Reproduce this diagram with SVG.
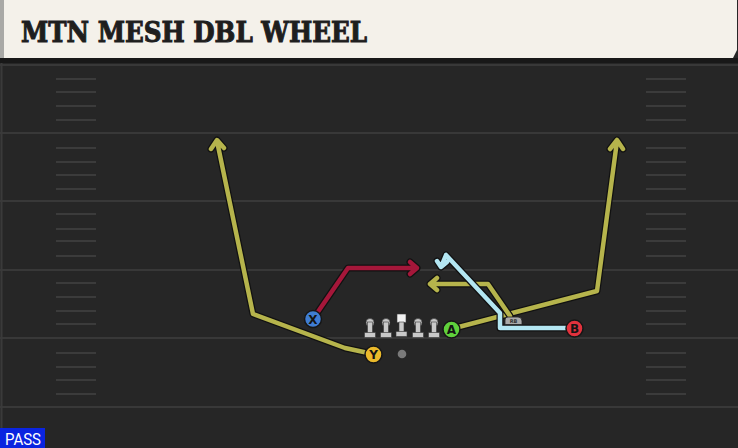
<svg xmlns="http://www.w3.org/2000/svg" width="738" height="448" viewBox="0 0 738 448">
<style>
.yard{stroke:#383838;stroke-width:2}
.hash{stroke:#3b3b3b;stroke-width:2}
.ol{fill:none;stroke:#111;stroke-width:7;stroke-linejoin:round;stroke-linecap:round}
.rt{fill:none;stroke-width:4.5;stroke-linejoin:round;stroke-linecap:round}
.olive{stroke:#b6b44c}
.red{stroke:#a5173a}
.blue{stroke:#b3e6f2}
.p{stroke:#161616;stroke-width:1.5}
.pl{font-family:"DejaVu Sans","Liberation Sans",sans-serif;font-weight:bold;font-size:12px;fill:#141414;text-anchor:middle}
.lm{fill:#c9c9c9;stroke:#3a3a3a;stroke-width:0.6}
</style>
<rect width="738" height="448" fill="#262626"/>
<g id="field">
<line class="yard" x1="0" y1="65" x2="738" y2="65"/>
<line class="yard" x1="0" y1="133" x2="738" y2="133"/>
<line class="yard" x1="0" y1="201" x2="738" y2="201"/>
<line class="yard" x1="0" y1="270" x2="738" y2="270"/>
<line class="yard" x1="0" y1="338" x2="738" y2="338"/>
<line class="yard" x1="0" y1="407" x2="738" y2="407"/>
<line x1="1.5" y1="60" x2="1.5" y2="428" stroke="#3a3a3a" stroke-width="2"/>
<g id="hashes-left">
<line class="hash" x1="56" y1="79" x2="96" y2="79"/>
<line class="hash" x1="56" y1="92" x2="96" y2="92"/>
<line class="hash" x1="56" y1="106" x2="96" y2="106"/>
<line class="hash" x1="56" y1="120" x2="96" y2="120"/>
<line class="hash" x1="56" y1="148" x2="96" y2="148"/>
<line class="hash" x1="56" y1="162" x2="96" y2="162"/>
<line class="hash" x1="56" y1="175" x2="96" y2="175"/>
<line class="hash" x1="56" y1="189" x2="96" y2="189"/>
<line class="hash" x1="56" y1="214" x2="96" y2="214"/>
<line class="hash" x1="56" y1="229" x2="96" y2="229"/>
<line class="hash" x1="56" y1="241" x2="96" y2="241"/>
<line class="hash" x1="56" y1="256" x2="96" y2="256"/>
<line class="hash" x1="56" y1="283" x2="96" y2="283"/>
<line class="hash" x1="56" y1="297" x2="96" y2="297"/>
<line class="hash" x1="56" y1="311" x2="96" y2="311"/>
<line class="hash" x1="56" y1="324" x2="96" y2="324"/>
<line class="hash" x1="56" y1="353" x2="96" y2="353"/>
<line class="hash" x1="56" y1="367" x2="96" y2="367"/>
<line class="hash" x1="56" y1="380" x2="96" y2="380"/>
<line class="hash" x1="56" y1="394" x2="96" y2="394"/>
</g>
<g id="hashes-right">
<line class="hash" x1="646" y1="79" x2="686" y2="79"/>
<line class="hash" x1="646" y1="92" x2="686" y2="92"/>
<line class="hash" x1="646" y1="106" x2="686" y2="106"/>
<line class="hash" x1="646" y1="120" x2="686" y2="120"/>
<line class="hash" x1="646" y1="148" x2="686" y2="148"/>
<line class="hash" x1="646" y1="162" x2="686" y2="162"/>
<line class="hash" x1="646" y1="175" x2="686" y2="175"/>
<line class="hash" x1="646" y1="189" x2="686" y2="189"/>
<line class="hash" x1="646" y1="214" x2="686" y2="214"/>
<line class="hash" x1="646" y1="229" x2="686" y2="229"/>
<line class="hash" x1="646" y1="241" x2="686" y2="241"/>
<line class="hash" x1="646" y1="256" x2="686" y2="256"/>
<line class="hash" x1="646" y1="283" x2="686" y2="283"/>
<line class="hash" x1="646" y1="297" x2="686" y2="297"/>
<line class="hash" x1="646" y1="311" x2="686" y2="311"/>
<line class="hash" x1="646" y1="324" x2="686" y2="324"/>
<line class="hash" x1="646" y1="353" x2="686" y2="353"/>
<line class="hash" x1="646" y1="367" x2="686" y2="367"/>
<line class="hash" x1="646" y1="380" x2="686" y2="380"/>
<line class="hash" x1="646" y1="394" x2="686" y2="394"/>
</g>
</g>
<g id="header">
<rect x="0" y="58" width="738" height="5" fill="#181818"/>
<path d="M0,0 H737 V50 L733,58 H0 Z" fill="#f4f1ea"/>
<rect x="0" y="0" width="4" height="58" fill="#a9a9a6"/>
<text x="21" y="42" font-family="'DejaVu Serif','Liberation Serif',serif" font-weight="bold" font-size="27" fill="#1e1e1e" stroke="#1e1e1e" stroke-width="1" textLength="346" lengthAdjust="spacingAndGlyphs">MTN MESH DBL WHEEL</text>
</g>
<g id="connectors">
<path class="ol" d="M373,354 L345,348 L253,314 L217,141 M211,149 L217,140 L224,148"/>
<path class="rt olive" d="M373,354 L345,348 L253,314 L217,141 M211,149 L217,140 L224,148"/>
<path class="ol" d="M451,329 L597,291 L617,141 M610,149 L617,140 L623,149"/>
<path class="rt olive" d="M451,329 L597,291 L617,141 M610,149 L617,140 L623,149"/>
<path class="ol" d="M510,316 L488,284 L430,284 M437,278 L430,284 L437,290"/>
<path class="rt olive" d="M510,316 L488,284 L430,284 M437,278 L430,284 L437,290"/>
<path class="ol" d="M567,328 L500,328 L500,313 L446,255 L441,267 M437,261 L441,267 L447,262"/>
<path class="rt blue" d="M567,328 L500,328 L500,313 L446,255 L441,267 M437,261 L441,267 L447,262"/>
<path class="ol" d="M313,319 L348,268 L417,268 M410,262 L417,268 L410,274"/>
<path class="rt red" d="M313,319 L348,268 L417,268 M410,262 L417,268 L410,274"/>
</g>
<g id="rb">
<path d="M505,324.5 V320 Q505,317 508,317 H518 Q522,317 522,321 V324.5 Z" fill="#a9a9a9" stroke="#222" stroke-width="0.8"/>
<text x="513.5" y="323" font-family="'DejaVu Sans',sans-serif" font-size="5" font-weight="bold" fill="#333" text-anchor="middle">RB</text>
</g>
<g id="line">
<g id="lt"><circle class="lm" cx="370" cy="322.5" r="4"/><rect class="lm" x="367.5" y="322" width="5" height="11"/><rect class="lm" x="364.5" y="332.5" width="11" height="5"/></g>
<g id="lg"><circle class="lm" cx="386" cy="322.5" r="4"/><rect class="lm" x="383.5" y="322" width="5" height="11"/><rect class="lm" x="380.5" y="332.5" width="11" height="5"/></g>
<g id="c"><rect x="397" y="314" width="9" height="8.5" fill="#f2f2f2" stroke="#3a3a3a" stroke-width="0.6"/><rect class="lm" x="399" y="322" width="5" height="10"/><rect class="lm" x="396" y="331.5" width="11" height="5"/></g>
<g id="rg"><circle class="lm" cx="418" cy="322.5" r="4"/><rect class="lm" x="415.5" y="322" width="5" height="11"/><rect class="lm" x="412.5" y="332.5" width="11" height="5"/></g>
<g id="rt"><circle class="lm" cx="434" cy="322.5" r="4"/><rect class="lm" x="431.5" y="322" width="5" height="11"/><rect class="lm" x="428.5" y="332.5" width="11" height="5"/></g>
</g>
<g id="ball"><circle cx="402" cy="354" r="4.3" fill="#7a7a7a"/></g>
<g id="X"><circle class="p" cx="313" cy="319" r="8.5" fill="#3f7dd3"/><text class="pl" x="313" y="323.5">X</text></g>
<g id="Y"><circle class="p" cx="373.5" cy="354.5" r="8.5" fill="#eab92b"/><text class="pl" x="373.5" y="359">Y</text></g>
<g id="A"><circle class="p" cx="451.5" cy="329.5" r="8.5" fill="#5fd13c"/><text class="pl" x="451.5" y="334">A</text></g>
<g id="B"><circle class="p" cx="574.5" cy="328.5" r="8.5" fill="#e2323d"/><text class="pl" x="574.5" y="333">B</text></g>
<g id="pass">
<rect x="0" y="428" width="45" height="20" fill="#0a24e0"/>
<text x="5" y="445" font-family="Roboto,'Liberation Sans',sans-serif" font-size="16" fill="#ffffff" textLength="36" lengthAdjust="spacingAndGlyphs">PASS</text>
</g>
</svg>
